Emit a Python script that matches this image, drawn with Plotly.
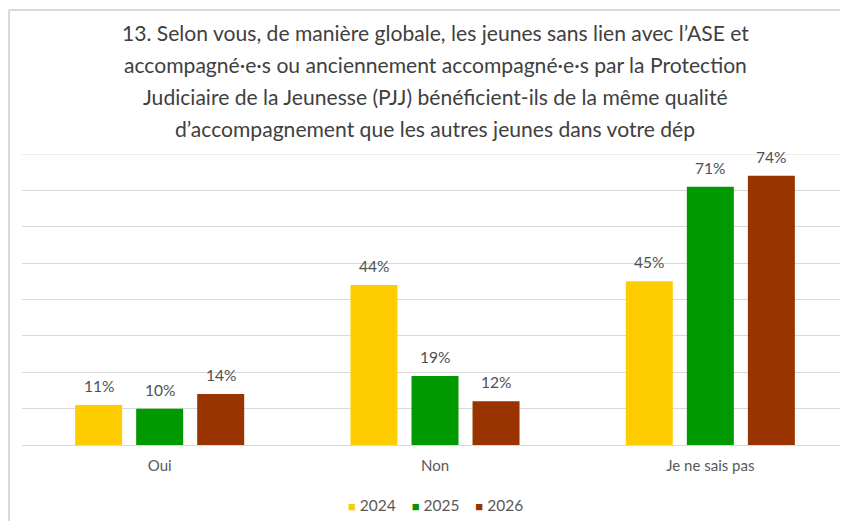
import plotly.graph_objects as go

categories = ["Oui", "Non", "Je ne sais pas"]
years = ["2024", "2025", "2026"]
values_2024 = [11, 44, 45]
values_2025 = [10, 19, 71]
values_2026 = [14, 12, 74]
colors = ["#FFCC00", "#009900", "#993300"]
title_lines = [
    "13. Selon vous, de manière globale, les jeunes sans lien avec l’ASE et",
    "accompagné·e·s ou anciennement accompagné·e·s par la Protection",
    "Judiciaire de la Jeunesse (PJJ) bénéficient-ils de la même qualité",
    "d’accompagnement que les autres jeunes dans votre dép",
]

FONT = "Lato, Open Sans, sans-serif"

# page body has an 8px margin: figure is shifted accordingly
W, H = 840, 513
ML, MR, MT, MB = 14, 0, 146, 76
PW, PH = W - ML - MR, H - MT - MB
BARGAP, GROUPGAP = 0.335, 0.23
slot_px = PW / len(categories) * (1 - BARGAP) / len(years)

series = [values_2024, values_2025, values_2026]
fig = go.Figure()
for name, vals, col in zip(years, series, colors):
    fig.add_trace(go.Bar(
        x=categories, y=vals, name=name,
        marker=dict(color=col, line=dict(width=0)),
        cliponaxis=False,
    ))

# data labels
for i, vals in enumerate(series):
    for cat, v in zip(categories, vals):
        fig.add_annotation(
            x=cat, y=v, xref="x", yref="y", text=f"{v}%", showarrow=False,
            xshift=(i - 1) * slot_px, yshift=19, xanchor="center", yanchor="middle",
            font=dict(size=15.5, color="#505050", family=FONT),
        )

fig.update_layout(
    width=W, height=H,
    margin=dict(l=ML, r=MR, t=MT, b=MB, autoexpand=False),
    paper_bgcolor="white", plot_bgcolor="white",
    barmode="group", bargap=BARGAP, bargroupgap=GROUPGAP,
    font=dict(family=FONT, color="#595959", size=15),
    showlegend=False,
    xaxis=dict(showline=False, ticks="", automargin=False, ticklabelstandoff=10,
               tickfont=dict(size=15, color="#595959")),
    yaxis=dict(range=[0, 80], tickvals=list(range(0, 81, 10)), showticklabels=False,
               showgrid=True, automargin=False,
               gridcolor="#D9D9D9", gridwidth=1, zeroline=True, zerolinecolor="#D9D9D9",
               zerolinewidth=1, fixedrange=True),
)

# top gridline (80%), which plotly omits at the edge of the plot
fig.add_shape(type="line", xref="paper", yref="y", x0=0, x1=1, y0=80, y1=80,
              line=dict(color="#D9D9D9", width=1), layer="below")

for i, line in enumerate(title_lines):
    fig.add_annotation(
        text=line, xref="paper", yref="paper",
        x=0.5, y=1, yshift=122 - 32 * i, xanchor="center", yanchor="middle", showarrow=False,
        font=dict(size=21.1, color="#404040", family=FONT),
    )

# legend
legend_text = "    ".join(
    f"<span style='color:{c};font-size:13px'>■</span> {y}" for y, c in zip(years, colors)
)
fig.add_annotation(
    text=legend_text, xref="paper", yref="paper", x=0.5, y=0, yshift=-60,
    xanchor="center", yanchor="middle", showarrow=False,
    font=dict(size=15.5, color="#595959", family=FONT),
)

# chart frame (left and top border)
fx = (1 - ML) / PW
fy = 1 + (MT - 2) / PH
fig.add_shape(type="line", xref="paper", yref="paper", x0=fx, x1=1.02,
              y0=fy, y1=fy, line=dict(color="#D9D9D9", width=2))
fig.add_shape(type="line", xref="paper", yref="paper", x0=fx, x1=fx,
              y0=fy, y1=-(MB + 5) / PH, line=dict(color="#D9D9D9", width=2))

fig.write_html("out.html")
